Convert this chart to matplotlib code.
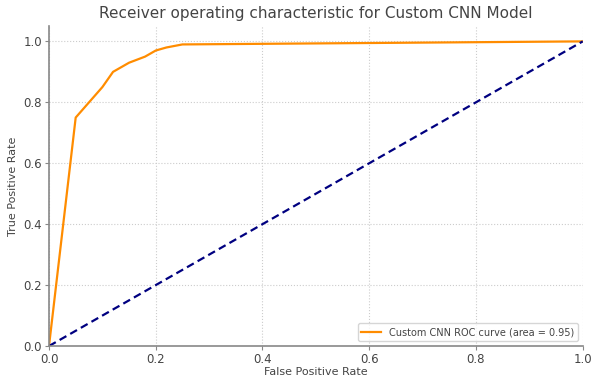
import matplotlib
matplotlib.use("Agg")
import matplotlib.pyplot as plt

fpr = [0.0, 0.05, 0.10, 0.12, 0.15, 0.18, 0.20, 0.22, 0.25, 1.0]
tpr = [0.0, 0.75, 0.85, 0.90, 0.93, 0.95, 0.97, 0.98, 0.99, 1.0]
roc_auc = 0.95
diag = [0.0, 1.0]

fig = plt.figure(figsize=(5.94, 3.79), dpi=100)
ax = fig.add_axes([0.0825, 0.087, 0.8985, 0.844])
ax.plot(fpr, tpr, color="darkorange", lw=1.6,
        label=f"Custom CNN ROC curve (area = {roc_auc:.2f})")
ax.plot(diag, diag, color="navy", lw=1.6, linestyle=(0, (3.5, 2)))
ax.set_xlim(0.0, 1.0)
ax.set_ylim(0.0, 1.05)
ax.grid(True, linestyle=":", color="#cccccc", lw=0.8)
for s in ["top", "right"]:
    ax.spines[s].set_visible(False)
for s in ["left", "bottom"]:
    ax.spines[s].set_color("#888888")
    ax.spines[s].set_linewidth(1.2)
ax.tick_params(colors="#444444", labelsize=8.5, length=3, color="#888888", pad=2)
ax.set_xlabel("False Positive Rate", fontsize=8, color="#444444", labelpad=1)
ax.set_ylabel("True Positive Rate", fontsize=8, color="#444444", labelpad=4)
ax.set_title("Receiver operating characteristic for Custom CNN Model",
             fontsize=11, color="#444444")
leg = ax.legend(loc="lower right", fontsize=7, frameon=True)
for t in leg.get_texts():
    t.set_color("#444444")
fig.savefig("out.png", dpi=100)
